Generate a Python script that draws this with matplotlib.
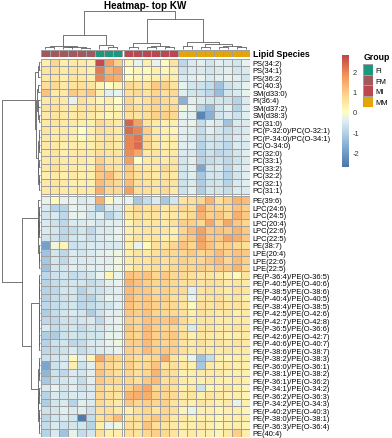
import matplotlib
matplotlib.use("Agg")
import matplotlib.pyplot as plt
import numpy as np
from matplotlib.colors import LinearSegmentedColormap, ListedColormap, Normalize

plt.rcParams['font.family'] = ['Liberation Sans', 'DejaVu Sans']
plt.rcParams['axes.unicode_minus'] = False

title = "Heatmap- top KW"
row_title = "Lipid Species"
legend_title = "Group"

groups = ['FM', 'FM', 'FM', 'FM', 'FM', 'FM', 'FI', 'FI', 'FI',
          'MI', 'MI', 'MI', 'MI', 'MI', 'MI',
          'MM', 'MM', 'MM', 'MM', 'MM', 'MM', 'MM', 'MM']
group_names = ['FI', 'FM', 'MI', 'MM']
group_colors = ['#1F977D', '#A3585E', '#BC4750', '#E4A50B']

rows_top = ['PS(34:2)', 'PS(34:1)', 'PS(36:2)', 'PC(40:3)', 'SM(d33:0)', 'PI(36:4)',
            'SM(d37:2)', 'SM(d38:3)', 'PC(31:0)', 'PC(P-32:0)/PC(O-32:1)',
            'PC(P-34:0)/PC(O-34:1)', 'PC(O-34:0)', 'PC(32:0)', 'PC(33:1)',
            'PC(33:2)', 'PC(32:2)', 'PC(32:1)', 'PC(31:1)']
rows_bottom = ['PE(39:6)', 'LPC(24:6)', 'LPC(24:5)', 'LPC(20:4)', 'LPC(22:6)', 'LPC(22:5)',
               'PE(38:7)', 'LPE(20:4)', 'LPE(22:6)', 'LPE(22:5)',
               'PE(P-36:4)/PE(O-36:5)', 'PE(P-40:5)/PE(O-40:6)', 'PE(P-38:5)/PE(O-38:6)',
               'PE(P-40:4)/PE(O-40:5)', 'PE(P-38:4)/PE(O-38:5)', 'PE(P-42:5)/PE(O-42:6)',
               'PE(P-42:7)/PE(O-42:8)', 'PE(P-36:5)/PE(O-36:6)', 'PE(P-42:6)/PE(O-42:7)',
               'PE(P-40:6)/PE(O-40:7)', 'PE(P-38:6)/PE(O-38:7)', 'PE(P-38:2)/PE(O-38:3)',
               'PE(P-36:0)/PE(O-36:1)', 'PE(P-38:1)/PE(O-38:2)', 'PE(P-36:1)/PE(O-36:2)',
               'PE(P-34:1)/PE(O-34:2)', 'PE(P-36:2)/PE(O-36:3)', 'PE(P-34:2)/PE(O-34:3)',
               'PE(P-40:2)/PE(O-40:3)', 'PE(P-38:0)/PE(O-38:1)', 'PE(P-36:3)/PE(O-36:4)',
               'PE(40:4)']

# z-scores (columns: 6 FM, 3 FI, 6 MI, 8 MM)
values_top = [
    [0.3, 0.8, 0.3, 0.4, 0.4, 0.3, 2.7, 1.6, 0.9, 0.2, -0.3, 0.3, -0.3, 0.1, 0.5, -0.9, -0.5, -0.4, -0.6, -0.4, -0.5, -0.6, -0.3],
    [0.5, 0.6, 0.4, 0.5, 0.4, 0.3, 2.1, 1.3, 1.6, 0.0, 0.2, 0.1, 0.3, 0.2, 0.3, -0.7, -0.5, -0.5, -0.6, -0.5, -0.4, -0.6, -0.5],
    [0.4, 0.5, 0.3, 0.5, 0.4, 0.3, 2.0, 1.5, 1.4, 0.1, 0.2, 0.2, 0.3, 0.4, 0.3, -0.5, -0.4, -0.3, -0.5, -0.4, -0.3, -0.4, -0.6],
    [0.6, 0.7, 0.4, 0.5, 0.6, 0.5, 0.2, 0.0, 0.2, 0.7, 0.6, 0.5, 1.0, 0.9, 0.5, -0.3, -0.6, -0.7, -0.8, -1.3, -0.7, -0.5, -0.3],
    [1.1, 0.4, 0.4, 1.0, 0.7, 1.0, 0.3, -0.4, -0.3, 0.6, 0.7, 0.5, 0.8, 0.6, 0.7, -0.4, -0.6, -0.7, -0.9, -1.4, -0.6, -0.5, -0.3],
    [0.4, 0.5, 0.4, -0.3, 0.6, 0.4, 0.2, 0.3, 0.0, 0.8, 0.4, 0.6, 0.9, 0.7, 0.6, -1.6, -0.4, -0.5, -0.6, -0.6, -0.7, -1.0, -0.5],
    [0.5, 0.6, 0.4, 0.4, 0.5, 0.5, 0.4, 0.3, 0.2, 0.8, 0.6, 0.6, 0.8, 0.7, 0.7, -0.2, -0.3, -1.0, -1.4, -0.6, -0.4, -1.0, -0.4],
    [0.4, 0.5, 0.4, 0.4, 0.5, 0.4, 0.3, 0.2, 0.3, 0.6, 0.5, 0.6, 0.9, 0.9, 0.7, -0.3, -0.4, -2.4, -1.6, -0.6, -0.5, -0.7, -0.4],
    [0.4, 0.5, 0.4, 0.4, 0.3, 0.3, 0.7, 0.5, 0.4, 2.4, 1.6, 0.5, 0.4, 0.3, 0.3, -0.4, -0.3, -0.8, -0.4, -0.5, -1.3, -0.5, -0.5],
    [0.5, 0.4, 0.4, 0.3, 0.0, 0.3, 0.6, 0.5, 0.4, 2.3, 2.0, 0.9, 0.4, 0.3, 0.2, -0.4, -0.4, -0.8, -0.4, -0.6, -0.8, -0.6, -0.5],
    [0.4, 0.4, 0.4, 0.3, 0.1, 0.3, 0.5, 0.5, 0.4, 2.0, 2.2, 0.8, 0.4, 0.3, 0.3, -0.4, -0.5, -0.8, -0.6, -0.6, -0.7, -0.5, -0.4],
    [0.4, 0.4, 0.3, 0.3, 0.3, 0.3, 0.5, 0.5, 0.4, 2.0, 2.3, 0.7, 0.4, 0.3, 0.3, -0.4, -0.4, -1.0, -0.6, -0.7, -0.9, -0.5, -0.5],
    [0.4, 0.5, 0.3, 0.4, 0.4, 0.4, 0.6, 0.5, 0.5, 1.9, 1.5, 0.4, 0.5, 0.4, 0.4, -0.5, -0.5, -1.0, -0.7, -0.9, -0.8, -0.6, -0.4],
    [0.4, 0.5, 0.4, 0.4, 0.4, 0.3, 0.9, 0.5, 0.5, 1.6, 0.0, 0.4, 0.5, 0.4, 0.5, -0.6, -0.4, -1.0, -0.8, -0.7, -0.9, -0.7, -0.5],
    [0.4, 0.6, 0.4, 0.4, 0.3, 0.3, 1.1, 0.6, 0.5, 1.0, 0.5, 0.4, 0.4, 0.7, 0.5, -0.6, -0.4, -1.8, -0.6, -0.5, -0.9, -0.5, -0.4],
    [0.3, 0.4, 0.3, 0.4, 0.3, 0.3, 1.0, 1.2, 0.6, 0.9, 0.6, 0.5, 0.4, 0.5, 0.4, -0.6, -0.4, -1.2, -0.6, -0.6, -1.0, -0.6, -0.4],
    [0.4, 0.5, 0.4, 0.3, 0.3, 0.3, 1.2, 0.9, 0.7, 1.2, 0.6, 0.5, 0.5, 0.6, 0.5, -0.7, -0.5, -1.1, -0.7, -0.6, -1.0, -0.5, -0.4],
    [0.4, 0.5, 0.4, 0.4, 0.4, 0.4, 1.4, 0.7, 0.7, 1.6, 0.6, 0.6, 0.5, 0.7, 0.4, -0.7, -0.4, -1.1, -0.6, -0.6, -0.8, -0.5, -0.5],
]
values_bottom = [
    [-0.3, 0.1, -0.3, -0.3, -0.5, -0.4, 1.4, 0.1, -0.3, -0.3, -1.2, -0.8, -0.5, -1.2, -0.6, 0.5, 0.6, 0.8, 1.3, 0.6, 0.9, 1.3, 1.2],
    [-0.5, -1.0, -1.0, -0.3, -0.4, -0.5, -1.3, -0.5, -0.5, 0.4, 0.7, 0.5, 0.6, 0.4, 0.5, 0.8, 0.6, 1.5, 0.9, 0.8, 0.7, 1.1, 0.9],
    [-0.6, -0.5, -0.9, -0.3, -0.3, -0.6, -0.4, -1.0, -0.6, 0.4, 0.6, 0.5, 0.5, 0.4, 0.4, 0.5, 0.7, 1.3, 0.9, 1.0, 0.7, 1.4, 1.0],
    [-0.5, -0.7, -0.9, -0.5, -0.5, -0.4, -0.6, -0.4, -0.4, 0.2, 0.5, 0.4, 0.5, 0.4, 0.6, 0.9, 0.9, 0.7, 1.5, 0.8, 1.5, 1.0, 0.8],
    [-0.5, -0.6, -0.9, -0.8, -0.6, -0.9, -0.5, -0.5, -0.3, 0.3, 0.4, 0.5, 0.5, 0.5, 0.3, 0.8, 1.2, 1.6, 1.0, 1.1, 1.0, 1.3, 1.0],
    [-0.6, -0.7, -0.9, -0.6, -0.5, -0.7, -0.5, -0.4, -0.3, 0.3, 0.5, 0.4, 0.5, 0.3, 0.3, 0.9, 1.0, 1.6, 1.0, 1.0, 1.5, 1.4, 1.0],
    [-1.9, -0.2, 0.2, -0.7, -0.6, -0.5, -0.5, -0.5, -0.5, 0.3, -0.3, 0.1, 0.6, 0.5, 0.8, 1.1, 0.8, 1.5, 1.1, 0.8, 0.9, 0.7, 0.6],
    [-1.3, -0.6, -0.9, -0.5, -0.6, -0.5, -0.4, -0.3, -0.2, 0.3, 0.5, 0.4, 0.6, 0.8, 0.7, 0.8, 1.0, 0.8, 0.9, 1.2, 0.9, 1.1, 1.0],
    [-1.2, -0.6, -0.9, -0.5, -0.5, -0.5, -0.4, -0.4, -0.2, 0.4, 0.5, 0.5, 0.7, 0.6, 0.7, 0.9, 0.8, 0.8, 1.0, 1.2, 0.8, 1.2, 0.9],
    [-1.3, -0.6, -0.6, -0.4, -0.5, -0.4, -0.4, -0.3, -0.2, 0.3, 0.5, 0.5, 0.6, 0.6, 0.7, 0.8, 0.8, 0.9, 0.8, 1.0, 1.0, 1.3, 0.8],
    [-0.9, -0.7, -0.6, -0.8, -0.7, -0.6, -0.3, 0.2, -0.3, 1.1, 1.0, 1.1, 0.8, 1.0, 0.7, 0.7, 0.6, 0.5, 0.5, 0.4, 0.3, 0.1, 0.5],
    [-1.0, -0.8, -0.7, -0.6, -0.6, -0.8, -0.7, -0.4, -0.3, 1.3, 1.1, 0.9, 0.8, 0.9, 0.7, 0.6, 0.6, 0.5, 0.6, 0.6, 0.4, 0.5, 0.4],
    [-1.0, -0.9, -0.6, -0.6, -1.0, -0.7, -0.7, -0.5, -0.4, 1.2, 1.0, 1.0, 0.7, 0.9, 0.7, 0.7, -0.4, 0.5, 0.6, 0.5, 0.4, 0.6, 0.5],
    [-1.0, -0.8, -0.7, -0.6, -0.9, -1.0, -0.6, -0.3, -0.4, 1.2, 0.9, 1.0, 0.8, 0.9, 0.6, 0.5, -0.3, 0.5, 0.5, 0.6, 0.4, 0.5, 0.3],
    [-0.9, -0.8, -0.7, -0.6, -0.9, -0.8, -0.7, -0.6, -0.4, 1.1, 0.9, 1.0, 0.9, 0.8, 0.7, 0.5, 0.1, 0.6, 0.5, 0.6, 0.5, 0.5, 0.4],
    [-1.1, -0.8, -0.6, -0.5, -0.6, -1.1, -0.7, -0.4, -0.4, 1.0, 0.9, 1.1, 0.8, 0.8, 0.7, 0.6, 0.3, 0.6, 0.5, 0.4, 0.5, 0.3, 0.4],
    [-0.9, -0.9, -0.7, -0.7, -0.6, -0.5, -0.9, -0.4, -0.3, 0.9, 0.8, 1.1, 1.0, 1.0, 1.2, 0.7, 0.4, 0.5, 0.5, 0.4, 0.4, 0.4, 0.4],
    [-0.5, -0.8, -0.7, -0.6, -0.8, -0.6, -0.6, -0.4, -0.3, 1.0, 0.8, 1.2, 0.9, 0.8, 0.7, 0.5, -0.5, 0.5, 0.5, 0.4, 0.4, 0.5, 0.4],
    [-1.1, -1.1, -0.7, -0.6, -0.7, -0.6, -0.6, -0.3, -0.3, 0.9, 0.8, 1.2, 0.9, 0.9, 1.0, 0.6, 0.3, 0.5, 0.4, 0.4, 0.3, 0.3, 0.4],
    [-1.0, -0.7, -0.6, -0.9, -0.8, -0.5, -0.5, -0.3, -0.2, 0.9, 0.9, 1.2, 0.9, 0.8, 0.9, 0.5, 0.4, 0.6, 0.4, 0.5, 0.4, 0.5, 0.4],
    [-0.9, -0.8, -0.7, -0.5, -0.8, -0.6, -0.5, -0.4, -0.3, 0.9, 0.8, 1.2, 0.9, 1.0, 0.9, 0.6, 0.4, 0.5, 0.4, 0.4, 0.5, 0.4, 0.4],
    [-0.7, -0.6, -0.5, 0.1, -0.4, 0.2, 1.5, 0.9, 0.7, 0.8, 0.6, 0.6, 0.8, 1.5, 0.5, 0.3, -0.3, -1.3, -0.8, 0.3, 0.2, 0.3, 0.3],
    [-1.8, -0.7, -0.5, 0.3, -0.7, -0.4, 0.9, 0.7, 0.6, 0.9, 0.6, 0.7, 1.1, 0.5, 0.6, 0.4, 0.3, -1.2, 0.4, 0.3, 0.4, 0.3, 0.3],
    [-1.5, -0.7, -0.9, -0.5, -0.6, -0.4, 1.1, 0.8, 0.6, 0.8, 0.6, 0.8, 1.3, 0.7, 0.6, 0.3, 0.3, 0.4, 0.4, 0.4, 0.3, 0.3, 0.3],
    [-1.2, -0.7, -0.6, -0.5, -0.8, -0.4, 1.0, 0.8, 0.7, 0.8, 0.6, 1.0, 1.2, 0.6, 0.7, 0.4, 0.3, 0.3, 0.4, 0.3, 0.3, 0.4, 0.3],
    [-0.5, -0.3, -0.6, -0.4, -0.7, -0.5, 0.8, 0.5, 0.6, 0.9, 1.2, 1.5, 0.7, 0.8, 0.6, 0.3, 0.4, -0.7, 0.2, 0.3, 0.4, 0.3, 0.2],
    [-1.0, -0.5, -0.6, -0.5, -0.5, -0.5, 0.8, 0.6, 0.5, 1.3, 1.4, 1.4, 0.9, 0.8, 0.7, 0.4, 0.5, 0.3, 0.5, 0.4, 0.3, 0.3, 0.2],
    [-1.1, -0.6, -0.5, -1.0, -0.4, -0.5, 0.7, 0.5, 0.4, 1.0, 0.8, 0.9, 0.8, 0.9, 0.5, 0.4, 0.3, 0.5, 0.4, 0.3, 0.4, -0.3, 0.3],
    [-0.7, -0.6, -0.4, -0.5, -0.4, -0.7, 0.6, 0.6, 0.4, 0.3, 0.6, 0.8, 0.5, 0.8, 0.6, 0.2, -0.3, 0.3, 0.3, 0.2, 0.3, 0.3, 0.2],
    [-0.9, -0.6, -0.5, -0.6, -2.6, -0.8, 0.6, 0.8, 1.2, 0.5, 0.6, 0.7, 1.0, 0.8, 0.4, 0.4, 0.3, 0.3, 0.3, 0.2, 0.3, 0.3, 0.3],
    [-0.8, -0.5, -0.7, -0.6, -0.6, -1.0, 0.3, -0.3, -0.2, 0.6, 0.5, 1.1, 0.6, 0.5, 0.4, 0.3, 0.3, 0.4, 0.3, 0.2, 0.3, 0.3, 0.2],
    [-1.0, -0.5, -1.3, -0.3, -0.8, -0.6, 0.6, 0.3, 0.3, 0.6, 0.5, 0.7, 0.9, 0.7, 0.5, 0.3, 0.4, 0.3, 0.3, 0.2, 0.4, 0.9, 0.3],
]

# cluster trees as (left, right, merge height), leaves are row / column indices
col_tree = ((((0, 1, 0.03), ((2, 3, 0.03), (4, 5, 0.02), 0.04), 0.07),
             (6, (7, 8, 0.05), 0.10), 0.36),
            (((9, 10, 0.05), ((11, 12, 0.04), (13, 14, 0.05), 0.08), 0.15),
             ((15, 16, 0.06), ((17, 18, 0.05), ((19, 20, 0.04), (21, 22, 0.05), 0.08), 0.12), 0.18),
             0.79),
            1.0)

row_tree = (((((0, 1, 0.02), 2, 0.05),
              (((3, 4, 0.03), ((5, 6, 0.03), (7, 8, 0.02), 0.04), 0.06),
               (((9, 10, 0.01), (11, 12, 0.01), 0.02),
                ((13, 14, 0.02), ((15, 16, 0.01), 17, 0.02), 0.03), 0.05), 0.09), 0.13)),
            ((18, (((19, 20, 0.01), (21, (22, 23, 0.005), 0.015), 0.02),
                   (24, ((25, 26, 0.005), 27, 0.008), 0.015), 0.03), 0.04),
             ((((28, 29, 0.005), (30, 31, 0.005), 0.01),
               ((32, 33, 0.005), ((34, 35, 0.004), (36, (37, 38, 0.003), 0.005), 0.008), 0.012), 0.02),
              (((39, 40, 0.01), (41, 42, 0.008), 0.02),
               (((43, 44, 0.008), 45, 0.015), ((46, 47, 0.01), (48, 49, 0.012), 0.02), 0.03), 0.045),
              0.22),
             0.45),
            1.0)

W, H = 392, 439
fig = plt.figure(figsize=(W / 100, H / 100), dpi=100)


def box(x0, y0, x1, y1):
    return [x0 / W, 1 - y1 / H, (x1 - x0) / W, (y1 - y0) / H]


n_left, n_top = 9, 18
gap_c, gap_r = 0.3, 0.33
data = np.array(values_top + values_bottom, dtype=float)
nr, nc = data.shape
grid = np.insert(data, n_left, np.nan, axis=1)
grid = np.insert(grid, n_top, np.nan, axis=0)
xedges = np.concatenate([np.arange(n_left + 1), np.arange(n_left, nc + 1) + gap_c])
yedges = np.concatenate([np.arange(n_top + 1), np.arange(n_top, nr + 1) + gap_r])

vmin, vmax = -2.7, 2.8
ramp = [(-2.7, '#4A75A8'), (-1.8, '#7DA7CE'), (-0.9, '#BDD9EA'), (-0.35, '#E4F1F2'),
        (0.0, '#FEFEC4'), (0.4, '#FEEAA4'), (0.9, '#FDD08A'), (1.8, '#F39556'), (2.8, '#C0434C')]
cmap = LinearSegmentedColormap.from_list(
    'rdylbu', [((v - vmin) / (vmax - vmin), c) for v, c in ramp])
norm = Normalize(vmin=vmin, vmax=vmax)
edge = '#A0A0A0'

ax = fig.add_axes(box(40.7, 59.5, 250, 437.5))
ax.pcolormesh(xedges, yedges, np.ma.masked_invalid(grid), cmap=cmap, norm=norm,
              edgecolor=edge, linewidth=0.72, snap=True)
ax.set_xlim(0, nc + gap_c)
ax.set_ylim(nr + gap_r, 0)
ax.set_xticks([])
centers = np.arange(nr) + 0.5 + gap_r * (np.arange(nr) >= n_top)
ax.set_yticks(centers)
ax.set_yticklabels(rows_top + rows_bottom, fontsize=5.4)
ax.yaxis.tick_right()
ax.tick_params(axis='y', length=0, pad=1.8)
for s in ax.spines.values():
    s.set_visible(False)

# group annotation bar
codes = np.array([[group_names.index(g) for g in groups]], dtype=float)
codes = np.insert(codes, n_left, np.nan, axis=1)
ann = fig.add_axes(box(40.7, 50.5, 250, 57.6))
ann.pcolormesh(xedges, [0, 1], np.ma.masked_invalid(codes), cmap=ListedColormap(group_colors),
               vmin=-0.5, vmax=3.5, edgecolor=edge, linewidth=0.72, snap=True)
ann.set_xlim(0, nc + gap_c)
ann.set_ylim(1, 0)
ann.axis('off')
fig.text(252.7 / W, 1 - 54.3 / H, row_title, fontsize=6.3, fontweight='bold', ha='left', va='center')

line_kw = dict(color='#5E5E5E', linewidth=0.6, solid_capstyle='butt', clip_on=False)


def draw_tree(a, node, pos, vertical):
    if isinstance(node, int):
        return pos(node), 0.0
    left, right, h = node
    p1, h1 = draw_tree(a, left, pos, vertical)
    p2, h2 = draw_tree(a, right, pos, vertical)
    if vertical:
        a.plot([p1, p1, p2, p2], [h1, h, h, h2], **line_kw)
    else:
        a.plot([h1, h, h, h2], [p1, p1, p2, p2], **line_kw)
    return (p1 + p2) / 2, h


cd = fig.add_axes(box(40.7, 12.3, 250, 49.5))
draw_tree(cd, col_tree, lambda j: j + 0.5 + gap_c * (j >= n_left), True)
cd.set_xlim(0, nc + gap_c)
cd.set_ylim(0, 1)
cd.axis('off')

rd = fig.add_axes(box(1.5, 59.5, 39.5, 437.5))
draw_tree(rd, row_tree, lambda i: i + 0.5 + gap_r * (i >= n_top), False)
rd.set_ylim(nr + gap_r, 0)
rd.set_xlim(1, 0)
rd.axis('off')

fig.text(145.3 / W, 1 - 5.8 / H, title, fontsize=7.1, fontweight='bold', ha='center', va='center')

# colour key
cax = fig.add_axes(box(341.5, 56, 349, 167.7))
cb = fig.colorbar(plt.cm.ScalarMappable(norm=norm, cmap=cmap), cax=cax)
cb.outline.set_visible(False)
cb.set_ticks([-2, -1, 0, 1, 2])
cb.ax.tick_params(length=0, pad=2.5, labelsize=5.4, labelcolor='#333333')

# group legend
lg = fig.add_axes(box(363.3, 65, 373.3, 107.7))
lg.pcolormesh(np.arange(4).reshape(4, 1), cmap=ListedColormap(group_colors),
              vmin=-0.5, vmax=3.5, edgecolor=edge, linewidth=0.72)
lg.set_ylim(4, 0)
lg.set_xticks([])
lg.set_yticks(np.arange(4) + 0.5)
lg.set_yticklabels(group_names, fontsize=5.4)
lg.yaxis.tick_right()
lg.tick_params(axis='y', length=0, pad=1.5)
for s in lg.spines.values():
    s.set_visible(False)
lg.text(0, 1.08, legend_title, transform=lg.transAxes, fontsize=6.3, fontweight='bold',
        ha='left', va='bottom')

fig.savefig('out.png', dpi=100)
